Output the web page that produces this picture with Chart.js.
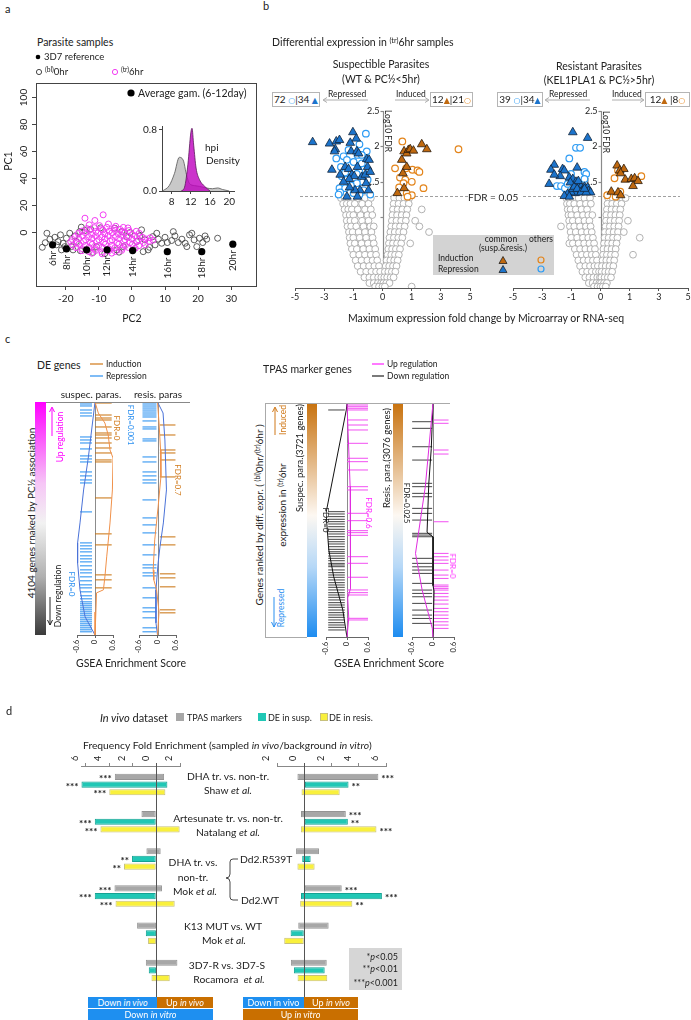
<!DOCTYPE html>
<html>
<head>
<meta charset="utf-8">
<title>Parasite transcriptome figure</title>
<script src="https://cdn.jsdelivr.net/npm/chart.js@4.4.1/dist/chart.umd.min.js"></script>
<style>
  body { margin: 0; background: #fff; }
  #fig { position: relative; width: 691px; height: 1020px; overflow: hidden; font-family: Lato, "Open Sans", sans-serif; color: #222; }
  #fig canvas { position: absolute; }
  .t { position: absolute; white-space: nowrap; line-height: 1; }
  .t sup { font-size: 0.7em; vertical-align: 0; position: relative; top: -0.45em; }
  .bx { position: absolute; box-sizing: border-box; display: flex; align-items: center; justify-content: center; white-space: nowrap; line-height: 1; }
  .sym { font-family: "DejaVu Sans", sans-serif; font-size: 0.8em; }
  #ov { position: absolute; left: 0; top: 0; }
</style>
</head>
<body>
<div id="fig"></div>
<script>
// ---------- panel a: PCA of parasite samples ----------
const refHours = ['6hr', '8hr', '10hr', '12hr', '14hr', '16hr', '18hr', '20hr'];
const refPC2 = [-24.0, -19.8, -13.7, -7.5, 0.2, 10.7, 21.1, 30.5];
const refPC1 = [-9.6, -12.6, -13.3, -13.3, -13.8, -14.6, -14.6, -9.1];
const pc1Ticks = [0, 20, 40, 60, 80, 100];
const pc2Ticks = [-20, -10, 0, 10, 20, 30];

// [PC2, PC1] of the (bl)0hr samples
const bl0hr = [
  [-27.1, -11.4], [-25.7, -1.0], [-24.8, -5.4], [-23.3, -4.0], [-22.3, -7.2], [-21.6, -2.2],
  [-20.8, -8.4], [-19.8, -4.7], [-18.8, -1.0], [-18.3, -10.9], [-17.3, -3.0], [-16.8, -7.2],
  [-15.8, 0.2], [-15.3, 3.5], [-14.2, 1.0], [-12.5, 2.0], [-5.2, 2.7], [-3.1, 0.2],
  [-1.6, -3.5], [-0.6, -0.5], [1.4, -7.2], [2.4, -3.0], [3.9, -5.9], [4.9, -13.3],
  [6.3, -3.5], [7.0, -9.6], [8.0, -5.4], [9.0, -8.4], [10.0, -4.0], [10.7, -7.9],
  [12.0, -6.4], [13.0, -3.0], [14.0, -7.9], [15.1, -5.4], [16.1, -8.4], [17.4, -2.2],
  [18.1, -1.0], [18.8, -5.9], [19.6, -10.9], [20.4, -4.7], [21.4, -7.9], [22.1, -3.0],
  [22.6, -5.4], [25.9, -4.7], [3.4, -14.6], [5.3, -11.4], [16.6, -10.9], [-10.7, -10.9],
  [-21.3, -13.3], [-22.8, -9.6], [-17.8, -13.3], [-20.3, -10.9], [2.9, 1.5], [7.5, -1.0],
  [12.5, 0.2], [-2.6, -10.9], [-4.6, -13.3], [-15.6, -13.9], [-11.8, -15.2], [-3.9, -15.0],
  [-8.2, -16.0], [0.4, -13.3], [-9.5, 3.0], [-26.2, -8.0]
];
// [PC2, PC1] of the (tr)6hr samples
const tr6hr = [
  [-14.2, 10.1], [-8.7, 12.6], [-11.2, 8.4], [-12.9, 5.2], [-9.8, 4.6], [-7.1, 5.8], [-4.9, 4.1], [-2.6, 3.3],
  [-13.6, 2.4], [-11.4, 3.1], [-9.3, 2.2], [-7.6, 3.4], [-5.4, 2.6], [-3.6, 1.8], [-1.2, 2.9],
  [-15.1, 0.6], [-12.8, 1.2], [-10.9, 0.3], [-8.8, 1.4], [-6.9, 0.5], [-5.1, 1.1], [-2.8, 0.2], [-0.9, 1.0], [1.3, 0.4],
  [-16.2, -1.2], [-14.1, -0.6], [-12.2, -1.8], [-10.3, -0.9], [-8.2, -1.5], [-6.0, -0.7], [-4.1, -1.6], [-2.2, -0.8], [0.1, -1.9], [2.2, -1.1],
  [-17.1, -3.4], [-15.0, -2.8], [-13.1, -3.6], [-11.0, -2.9], [-9.1, -3.8], [-7.2, -2.7], [-5.0, -3.5], [-3.1, -2.6], [-1.0, -3.7], [1.0, -3.0], [3.1, -3.9],
  [-18.0, -5.6], [-16.1, -4.9], [-14.0, -5.8], [-12.1, -4.8], [-10.0, -5.7], [-8.1, -5.0], [-6.0, -5.9], [-4.0, -4.9], [-2.1, -5.8], [0.0, -5.1], [2.0, -6.0], [4.1, -5.2], [5.5, -4.4],
  [-18.5, -7.4], [-16.5, -7.9], [-14.6, -7.1], [-12.5, -8.0], [-10.6, -7.2], [-8.5, -7.9], [-6.6, -7.0], [-4.5, -8.1], [-2.5, -7.3], [-0.6, -8.0], [1.5, -7.1], [3.5, -7.8], [5.2, -7.0], [6.4, -6.1],
  [-17.9, -9.8], [-16.0, -9.2], [-14.1, -10.1], [-12.0, -9.3], [-10.1, -10.2], [-8.0, -9.1], [-6.1, -10.0], [-4.0, -9.2], [-2.0, -10.1], [0.1, -9.4], [2.1, -10.2], [4.0, -9.5],
  [-16.9, -11.6], [-15.0, -12.4], [-13.0, -11.5], [-11.1, -12.3], [-9.0, -11.4], [-7.0, -12.5], [-5.1, -11.6], [-3.0, -12.2], [-1.1, -11.5], [1.0, -12.1],
  [-15.1, -13.9], [-13.0, -14.6], [-11.0, -13.8], [-9.1, -14.7], [-7.0, -13.9], [-5.0, -14.5], [-3.1, -13.7],
  [-12.1, -15.8], [-9.0, -16.2], [-6.1, -15.7]
];

// hpi density inset
const greyHpi = [6.1, 7.5, 8.6, 9.6, 10.5, 11.0, 11.7, 12.8, 13.8, 15.2, 16.5, 17.6, 18.6, 20.0];
const greyDensity = [0, 0.07, 0.23, 0.44, 0.39, 0.24, 0.10, 0.07, 0.06, 0.04, 0.03, 0.04, 0.02, 0];
const pinkHpi = [10.0, 10.7, 11.4, 12.0, 12.25, 12.6, 13.1, 13.8, 14.9, 16.0];
const pinkDensity = [0, 0.05, 0.35, 0.76, 0.82, 0.6, 0.3, 0.15, 0.06, 0];
const hpiTicks = [8, 12, 16, 20];
const densityTicks = [0, 0.8];

// ---------- panel b: volcano plots, [fold change, log10 FDR] ----------
const foldTicks = [-5, -3, -1, 0, 1, 3, 5];
const fdrTicks = [1, 1.5, 2, 2.5];
const fdrTickLabels = ['', '1.5', '2', '2.5'];
const fdrCutoff = 0.05;

const suspRepTri = [[-3.79, 2.06], [-2.63, 2.04], [-2.24, 1.96], [-2.17, 2.07], [-1.95, 2.09], [-2.29, 1.93], [-1.21, 2.05], [-1.03, 2.20], [-0.90, 2.11], [-1.15, 1.93], [-0.88, 1.93], [-0.82, 1.90], [-2.47, 1.67], [-1.56, 1.71], [-1.33, 1.68], [-0.86, 1.71], [-0.54, 1.82], [-0.51, 1.71], [-0.46, 1.81], [-1.10, 1.60], [-0.97, 1.58], [-1.28, 1.54], [-0.71, 1.57], [-0.59, 1.60], [-0.56, 1.48], [-0.48, 1.38], [-0.77, 1.38], [-0.94, 1.38], [-1.44, 1.29], [-0.86, 1.29], [-1.26, 1.42], [-1.90, 1.60], [-1.67, 1.50], [-0.42, 1.64]];
const suspRepCirc = [[-0.57, 2.18], [-0.79, 2.03], [-1.33, 1.95], [-1.67, 1.86], [-2.17, 1.83], [-1.44, 1.81], [-0.99, 1.78], [-0.71, 1.76], [-1.85, 1.71], [-0.65, 1.67], [-1.79, 1.58], [-1.56, 1.63], [-0.79, 1.64], [-0.67, 1.50], [-0.51, 1.53], [-0.88, 1.48], [-1.95, 1.41], [-1.17, 1.45], [-1.56, 1.41], [-0.99, 1.34], [-1.90, 1.35], [-0.65, 1.38], [-0.42, 1.32], [-2.01, 1.32], [-0.79, 1.32], [-1.44, 1.53], [-0.86, 1.88], [-0.54, 1.93], [-0.71, 1.88], [-0.88, 1.61]];
const suspIndTri = [[0.51, 1.34], [0.66, 1.81], [0.74, 1.93], [0.83, 1.90], [0.89, 1.95], [0.95, 1.96], [1.12, 1.94], [1.69, 2.03], [2.04, 1.96], [0.70, 1.62], [0.83, 1.71], [0.74, 1.41]];
const suspIndCirc = [[0.68, 2.07], [4.21, 1.96], [0.43, 1.69], [0.81, 1.69], [1.05, 1.67], [1.40, 1.66], [1.53, 1.64], [0.60, 1.56], [0.78, 1.53], [1.01, 1.50], [0.72, 1.48], [1.81, 1.41], [0.57, 1.42], [0.83, 1.34], [1.01, 1.31], [0.86, 1.29]];
// non-significant genes, rows of [log10 FDR, [fold changes]]
const suspGrey = [
  [1.27, [-1.85, -1.6, -1.35, -1.1, -0.85, -0.6, -0.4, 0.4, 0.58, 0.75, 0.92]],
  [1.19, [-1.7, -1.45, -1.2, -0.95, -0.7, -0.48, 0.38, 0.55, 0.72, 0.9]],
  [1.11, [-1.6, -1.35, -1.1, -0.85, -0.6, -0.4, 0.36, 0.52, 0.68, 0.85, 1.69]],
  [1.03, [-1.5, -1.25, -1.0, -0.75, -0.52, -0.35, 0.34, 0.5, 0.66, 0.82]],
  [0.95, [-1.45, -1.2, -0.95, -0.7, -0.48, 0.32, 0.48, 0.64, 0.8, 1.24]],
  [0.87, [-1.4, -1.15, -0.9, -0.65, -0.42, -0.3, 0.3, 0.45, 0.6, 0.76, 1.53]],
  [0.79, [-1.3, -1.05, -0.82, -0.6, -0.38, 0.27, 0.42, 0.57, 0.72, 2.19]],
  [0.71, [-1.25, -1.0, -0.78, -0.56, -0.34, 0.24, 0.39, 0.54, 0.68]],
  [0.63, [-1.2, -0.95, -0.72, -0.5, -0.3, 0.22, 0.36, 0.5, 0.64, 0.95]],
  [0.55, [-1.1, -0.88, -0.66, -0.45, -0.25, 0.2, 0.33, 0.46, 0.6]],
  [0.47, [-1.0, -0.8, -0.6, -0.4, -0.22, 0.17, 0.3, 0.43, 0.56]],
  [0.39, [-0.92, -0.72, -0.52, -0.34, -0.18, 0.14, 0.27, 0.4, 0.52]],
  [0.31, [-0.85, -0.65, -0.46, -0.28, -0.12, 0.11, 0.23, 0.36, 0.48]],
  [0.23, [-0.75, -0.56, -0.38, -0.22, -0.08, 0.08, 0.2, 0.32, 0.44]],
  [0.15, [-0.62, -0.45, -0.3, -0.15, -0.04, 0.06, 0.16, 0.28, 0.38]],
  [0.07, [-0.45, -0.3, -0.16, -0.05, 0.03, 0.13, 0.24]],
  [0.02, [-0.25, -0.12, 0.0, 0.08, 1.0]]
];

const resisRepTri = [[-0.95, 2.20], [-0.44, 2.12], [-2.17, 1.74], [-2.40, 1.67], [-1.60, 1.68], [-1.48, 1.66], [-0.80, 1.70], [-1.76, 1.58], [-2.17, 1.60], [-2.52, 1.47], [-1.14, 1.56], [-0.95, 1.54], [-0.84, 1.50], [-0.78, 1.47], [-0.67, 1.43], [-0.55, 1.43], [-0.44, 1.42], [-0.41, 1.37], [-0.34, 1.35], [-0.61, 1.37], [-0.72, 1.36], [-0.87, 1.34], [-1.02, 1.35], [-1.25, 1.33], [-1.48, 1.30], [-1.14, 1.29], [-0.95, 1.40], [-1.07, 1.49], [-0.90, 1.43], [-0.80, 1.40], [-0.67, 1.35], [-0.49, 1.35], [-0.55, 1.40], [-0.76, 1.51]];
const resisRepCirc = [[-0.84, 1.98], [-0.70, 1.98], [-1.14, 1.83], [-0.55, 1.64], [-0.49, 1.61], [-0.55, 1.54], [-1.02, 1.61], [-1.99, 1.44], [-1.71, 1.44], [-1.44, 1.41], [-1.14, 1.51], [-1.25, 1.47]];
const resisIndTri = [[0.57, 1.73], [0.66, 1.66], [0.80, 1.68], [0.69, 1.62], [0.85, 1.53], [1.11, 1.54], [1.34, 1.55], [1.57, 1.51], [1.23, 1.44], [0.37, 1.36], [0.60, 1.35], [0.69, 1.31]];
const resisIndCirc = [[0.48, 1.55], [0.60, 1.66], [1.80, 1.58], [0.23, 1.31], [0.52, 1.29], [0.68, 1.36]];
const resisGrey = [
  [1.27, [-1.35, -1.15, -0.95, -0.75, -0.55, -0.36, 0.26, 0.42, 0.58, 0.74, 0.86]],
  [1.19, [-1.3, -1.1, -0.9, -0.7, -0.5, -0.33, 0.24, 0.4, 0.56, 0.72]],
  [1.11, [-1.25, -1.05, -0.85, -0.65, -0.46, 0.22, 0.38, 0.53, 0.68]],
  [1.03, [-1.2, -1.0, -0.8, -0.6, -0.42, -0.28, 0.2, 0.36, 0.51, 0.66]],
  [0.95, [-1.15, -0.95, -0.75, -0.55, -0.38, 0.19, 0.34, 0.49, 0.64, 0.94]],
  [0.87, [-1.71, -1.1, -0.9, -0.7, -0.5, -0.34, 0.17, 0.32, 0.47, 0.62]],
  [0.79, [-1.05, -0.85, -0.65, -0.46, -0.3, 0.15, 0.3, 0.45, 0.6, 0.8]],
  [0.71, [-1.0, -0.8, -0.6, -0.42, -0.26, 0.14, 0.28, 0.43, 0.58, 1.69]],
  [0.63, [-1.14, -0.95, -0.75, -0.56, -0.38, -0.22, 0.12, 0.26, 0.4, 0.55]],
  [0.55, [-0.88, -0.7, -0.52, -0.34, -0.19, 0.1, 0.24, 0.38, 0.52]],
  [0.47, [-0.82, -0.64, -0.47, -0.3, -0.16, 0.09, 0.22, 0.36, 0.5, 1.23]],
  [0.39, [-0.76, -0.58, -0.42, -0.26, -0.12, 0.07, 0.2, 0.33, 0.47]],
  [0.31, [-0.7, -0.52, -0.36, -0.21, -0.09, 0.05, 0.18, 0.31, 0.44]],
  [0.23, [-0.62, -0.46, -0.3, -0.16, -0.05, 0.04, 0.16, 0.28, 0.4]],
  [0.15, [-0.52, -0.38, -0.24, -0.11, -0.02, 0.03, 0.14, 0.25, 0.36]],
  [0.07, [-0.4, -0.27, -0.14, -0.04, 0.02, 0.12, 0.22]],
  [0.02, [-0.22, -0.1, 0.0, 0.08, 0.18]]
];

// ---------- panel c: GSEA tracks (gene rank hits, [rank, enrichment score]) ----------
const esTicks = [-0.6, 0, 0.6];
const suspBlueHits = [35, 70, 141, 194, 246, 616, 669, 722, 827, 950, 1003, 1056, 1232, 1302, 1373, 1426, 1936, 2482, 2534, 2587, 2640, 2710, 2763, 2816, 2886, 2957, 3010, 3080, 3150, 3221, 3274, 3344, 3414, 3467, 3520, 3555, 3590, 3626, 3661, 3696, 3731, 3766, 3802, 3837, 3872, 3907, 3942, 3978, 4013, 4048];
const suspOrangeHits = [18, 229, 282, 317, 440, 546, 581, 634, 722, 810, 898, 1021, 1056, 1690, 2323, 2517, 3045, 3133, 3274];
const suspBlueES = [[0, 0], [968, -0.22], [1549, -0.38], [2130, -0.5], [2482, -0.58], [2834, -0.58], [3309, -0.5], [3784, -0.33], [4104, 0]];
const suspOrangeES = [[0, 0], [194, 0.11], [370, 0.33], [581, 0.44], [845, 0.5], [986, 0.6], [1549, 0.58], [2130, 0.5], [2728, 0.39], [3080, 0.33], [3309, 0.28], [3362, 0.05], [3700, 0.03], [4104, 0]];
const resisBlueHits = [18, 53, 88, 123, 158, 194, 229, 264, 334, 440, 475, 651, 686, 968, 1056, 1232, 1302, 1373, 1426, 1725, 2042, 2165, 2306, 2517, 2693, 2869, 2922, 3010, 3063, 3274, 3450, 3626, 3696, 3802, 3978, 4048];
const resisOrangeHits = [405, 581, 845, 898, 1021, 1320, 2376, 2517, 3027, 3098, 3256, 3661, 3714];
const resisBlueES = [[0, 0], [194, 0.18], [669, 0.24], [1549, 0.29], [2130, 0.19], [2552, 0.08], [2834, 0.02], [3309, -0.05], [3890, -0.05], [4104, 0]];
const resisOrangeES = [[0, 0], [370, 0.05], [845, 0.1], [1320, 0.11], [1848, 0.02], [2429, -0.09], [2957, -0.14], [3133, -0.12], [3309, -0.03], [3696, 0.05], [4104, 0]];

const tpasSuspDownHits = [111, 1728, 1765, 1807, 1849, 1887, 1924, 1967, 2008, 2046, 2083, 2126, 2168, 2206, 2242, 2285, 2327, 2365, 2391, 2433, 2470, 2508, 2550, 2576, 2603, 2655, 2698, 2735, 2772, 2814, 2857, 2894, 2931, 2973, 3016, 3053, 3090, 3132, 3175, 3212, 3249, 3292, 3334, 3371, 3408, 3450, 3493, 3530, 3567, 3609];
const tpasSuspUpHits = [32, 59, 84, 111, 270, 350, 429, 641, 879, 933, 1065, 1331, 1383, 1754, 1871, 2030, 2062, 2104, 2444, 2549, 2771, 2973, 3016, 3053, 3424, 3450];
const tpasSuspDownES = [[0, 0], [111, -0.02], [1749, -0.6], [2337, -0.52], [2762, -0.38], [3291, -0.12], [3657, -0.02], [3721, 0]];
const tpasSuspUpES = [[0, 0], [1331, 0.09], [2300, 0.1], [2950, 0.1], [3100, 0.02], [3420, 0.05], [3721, 0]];
const tpasResisDownHits = [246, 333, 575, 750, 1056, 1100, 1188, 1232, 1385, 1451, 1539, 1713, 1736, 1758, 2042, 2108, 2153, 2196, 2240, 2371, 2459, 2503, 2547, 2634, 2722, 2788, 2832, 2897];
const tpasResisUpHits = [224, 267, 618, 671, 1561, 1977, 2021, 2065, 2108, 2196, 2262, 2306, 2393, 2415, 2437, 2459, 2503, 2547, 2591, 2643, 2700, 2744, 2788, 2832, 2876, 2919, 2963];
const tpasResisDownES = [[0, 0], [600, -0.05], [1056, -0.12], [1700, -0.17], [1760, 0], [2400, 0], [2470, 0.03], [3076, 0]];
const tpasResisUpES = [[0, 0], [1100, -0.22], [1977, -0.5], [2459, -0.31], [2963, -0.02], [3076, 0]];

// ---------- panel d: frequency fold enrichment, floating [from, to] ----------
const studies = ['DHA tr. vs. non-tr. (Shaw et al.)', 'Artesunate tr. vs. non-tr. (Natalang et al.)', 'DHA tr. vs. non-tr. Dd2.R539T (Mok et al.)', 'DHA tr. vs. non-tr. Dd2.WT (Mok et al.)', 'K13 MUT vs. WT (Mok et al.)', '3D7-R vs. 3D7-S (Rocamora et al.)'];
const enrichTicks = [-2, 0, 2, 4, 6];
const downTpas = [[-0.65, 3.53], [0.06, 1.27], [-0.36, 0.85], [-0.47, 3.56], [0, 1.64], [-1.78, 0.9]];
const downSusp = [[-0.93, 6.36], [0.06, 5.23], [0.06, 2.07], [0.06, 5.23], [0, 0.9], [0, 0.65]];
const downResis = [[-0.76, 4.0], [-1.97, 4.75], [0.06, 2.75], [-1.55, 3.47], [0, 0.71], [-1.13, 0.42]];
const upTpas = [[-0.5, 5.44], [-0.24, 3.05], [-0.6, 1.08], [0, 2.75], [-0.44, 1.79], [-0.98, 1.65]];
const upSusp = [[0.05, 3.25], [0, 3.2], [-0.15, 0.47], [-0.24, 5.7], [-1.0, 0], [-0.76, 1.5]];
const upResis = [[-0.2, 2.6], [-0.25, 5.3], [-0.5, 0.76], [-0.3, 3.53], [-1.47, 0], [-0.49, 1.69]];
const downStars = [['***', '', '', '***', '', ''], ['***', '***', '**', '***', '', ''], ['***', '***', '**', '***', '', '']];
const upStars = [['***', '***', '', '***', '', ''], ['**', '**', '', '***', '', ''], ['', '***', '', '**', '', '']];

// ---------------------------------------------------------------
Chart.defaults.font.family = 'Lato, "Open Sans", sans-serif';
Chart.defaults.color = '#222';
Chart.defaults.font.size = 9;

const fig = document.getElementById('fig');
const PAD = 30;

// area = [left, top, right, bottom] of the plotting region on the page.
// Visible axes get a PAD-wide box (labels are clipped to it), other sides get PAD padding.
function makeChart(area, config) {
  const [l, t, r, b] = area;
  const w = r - l + 2 * PAD, h = b - t + 2 * PAD;
  const cv = document.createElement('canvas');
  cv.width = w; cv.height = h;
  cv.style.left = (l - PAD) + 'px';
  cv.style.top = (t - PAD) + 'px';
  cv.style.width = w + 'px';
  cv.style.height = h + 'px';
  fig.appendChild(cv);
  const opts = config.options || {};
  const pad = { left: PAD, right: PAD, top: PAD, bottom: PAD };
  Object.entries(opts.scales || {}).forEach(([id, s]) => {
    if (s.display === false) return;
    const pos = s.position || (id === 'x' ? 'bottom' : 'left');
    pad[pos] = 0;
    s.afterFit = sc => { if (sc.isHorizontal()) sc.height = PAD; else sc.width = PAD; };
  });
  opts.responsive = false;
  opts.animation = false;
  opts.events = [];
  opts.layout = { padding: pad };
  opts.plugins = Object.assign({ legend: { display: false }, tooltip: { enabled: false } }, opts.plugins || {});
  config.options = opts;
  return new Chart(cv, config);
}

const fixedTicks = list => s => { s.ticks = list.map(v => ({ value: v })); };

// ----- panel a -----
const pcaLabels = {
  id: 'pcaLabels',
  afterDraw(chart) {
    const { ctx, chartArea: a, scales: { x, y } } = chart;
    ctx.save();
    ctx.strokeStyle = '#444'; ctx.lineWidth = 1;
    ctx.strokeRect(Math.round(a.left) + 0.5, Math.round(a.top) + 0.5, Math.round(a.width), Math.round(a.height));
    ctx.fillStyle = '#222';
    ctx.font = '10px Lato';
    pc1Ticks.forEach(v => {
      const py = Math.round(y.getPixelForValue(v)) + 0.5;
      ctx.beginPath(); ctx.moveTo(a.left, py); ctx.lineTo(a.left - 4, py); ctx.stroke();
      ctx.save(); ctx.translate(a.left - 7, py); ctx.rotate(-Math.PI / 2);
      ctx.textAlign = 'center'; ctx.textBaseline = 'bottom'; ctx.fillText(String(v), 0, 0);
      ctx.restore();
    });
    refHours.forEach((h, i) => {
      const px = x.getPixelForValue(refPC2[i]), py = y.getPixelForValue(refPC1[i]);
      ctx.save(); ctx.translate(px, py + 6); ctx.rotate(-Math.PI / 2);
      ctx.textAlign = 'right'; ctx.textBaseline = 'middle'; ctx.fillText(h, 0, 0);
      ctx.restore();
    });
    ctx.restore();
  }
};

makeChart([36, 83, 256, 286], {
  type: 'scatter',
  data: { datasets: [
    { data: refPC2.map((v, i) => ({ x: v, y: refPC1[i] })), pointRadius: 3.6, pointBackgroundColor: '#000', pointBorderColor: '#000', pointBorderWidth: 0 },
    { data: tr6hr.map(([x, y]) => ({ x, y })), pointRadius: 3, pointBackgroundColor: 'rgba(0,0,0,0)', pointBorderColor: '#f23cf2', pointBorderWidth: 1 },
    { data: bl0hr.map(([x, y]) => ({ x, y })), pointRadius: 3, pointBackgroundColor: 'rgba(0,0,0,0)', pointBorderColor: '#3a3a3a', pointBorderWidth: 0.8 }
  ]},
  options: {
    scales: {
      x: { min: -29, max: 37.5, afterBuildTicks: fixedTicks(pc2Ticks), ticks: { font: { size: 10 }, padding: 3 },
           grid: { drawOnChartArea: false, tickLength: 4, color: '#444' }, border: { display: false } },
      y: { display: false, min: -40, max: 110 }
    }
  },
  plugins: [pcaLabels]
});

// inset: hpi density
makeChart([162, 126, 234, 191], {
  type: 'scatter',
  data: { datasets: [
    { data: pinkHpi.map((h, i) => ({ x: h, y: pinkDensity[i] })), showLine: true, fill: 'origin', backgroundColor: 'rgba(190,0,190,0.8)', borderColor: '#5a1a5a', borderWidth: 0.8, pointRadius: 0, cubicInterpolationMode: 'monotone' },
    { data: greyHpi.map((h, i) => ({ x: h, y: greyDensity[i] })), showLine: true, fill: 'origin', backgroundColor: '#c8c8c8', borderColor: '#555', borderWidth: 0.8, pointRadius: 0, cubicInterpolationMode: 'monotone' }
  ]},
  options: {
    scales: {
      x: { min: 6, max: 21, afterBuildTicks: fixedTicks(hpiTicks), ticks: { font: { size: 10 }, padding: 2 },
           grid: { drawOnChartArea: false, tickLength: 3, color: '#444' }, border: { color: '#444' } },
      y: { min: 0, max: 0.85, afterBuildTicks: fixedTicks(densityTicks), ticks: { font: { size: 10 }, padding: 2, callback: v => v.toFixed(1) },
           grid: { drawOnChartArea: false, tickLength: 3, color: '#444' }, border: { color: '#444' } }
    }
  }
});

// ----- panel b -----
// fold change axis is stretched between -1 and 1
function fc2u(v) { const a = Math.abs(v); return Math.sign(v) * (a <= 1 ? 2 * a : a + 1); }
function u2fc(u) { const a = Math.abs(u); return Math.sign(u) * (a <= 2 ? a / 2 : a - 1); }

function volcanoAxis(insetL, insetR) {
  return {
    id: 'volcanoAxis',
    beforeDatasetsDraw(chart) {
      const { ctx, chartArea: a, scales: { x, y } } = chart;
      const x0 = Math.round(x.getPixelForValue(0)) + 0.5;
      ctx.save();
      ctx.strokeStyle = '#8a8a8a'; ctx.lineWidth = 1.2;
      ctx.beginPath(); ctx.moveTo(x0, a.bottom); ctx.lineTo(x0, y.getPixelForValue(fdrTicks[fdrTicks.length - 1])); ctx.stroke();
      ctx.fillStyle = '#222'; ctx.font = '9px Lato'; ctx.textAlign = 'right'; ctx.textBaseline = 'middle';
      fdrTicks.forEach((v, i) => {
        const py = Math.round(y.getPixelForValue(v)) + 0.5;
        ctx.beginPath(); ctx.moveTo(x0 - 3, py); ctx.lineTo(x0, py); ctx.stroke();
        if (fdrTickLabels[i]) ctx.fillText(fdrTickLabels[i], x0 - 4, py);
      });
      const pc = Math.round(y.getPixelForValue(-Math.log10(fdrCutoff))) + 0.5;
      ctx.setLineDash([3, 2]); ctx.strokeStyle = '#888'; ctx.lineWidth = 0.8;
      ctx.beginPath(); ctx.moveTo(a.left + insetL, pc); ctx.lineTo(a.right - insetR, pc); ctx.stroke();
      ctx.restore();
    }
  };
}

function volcanoChart(area, tri, circ, triUp, circUp, grey, insets) {
  const pts = arr => arr.map(([fc, q]) => ({ x: fc2u(fc), y: q }));
  const greyPts = [];
  grey.forEach(([q, fcs]) => fcs.forEach(fc => greyPts.push({ x: fc2u(fc), y: q })));
  makeChart(area, {
    type: 'scatter',
    data: { datasets: [
      { data: pts(triUp), pointStyle: 'triangle', pointRadius: 5, pointBackgroundColor: '#c0690f', pointBorderColor: '#2b1c0c', pointBorderWidth: 0.8 },
      { data: pts(tri), pointStyle: 'triangle', pointRadius: 5, pointBackgroundColor: '#1c74cc', pointBorderColor: '#13243a', pointBorderWidth: 0.8 },
      { data: pts(circUp), pointRadius: 3.3, pointBackgroundColor: '#fff', pointBorderColor: '#e3841a', pointBorderWidth: 1.2 },
      { data: pts(circ), pointRadius: 3.3, pointBackgroundColor: '#fff', pointBorderColor: '#2e9cf4', pointBorderWidth: 1.2 },
      { data: greyPts, pointRadius: 3.4, pointBackgroundColor: '#fff', pointBorderColor: '#a9a9a9', pointBorderWidth: 0.9 }
    ]},
    options: {
      scales: {
        x: { min: -6, max: 6, afterBuildTicks: s => { s.ticks = foldTicks.map(v => ({ value: fc2u(v) })); },
             ticks: { callback: v => String(Math.round(u2fc(v))), font: { size: 9 }, padding: 1 },
             grid: { drawOnChartArea: false, tickLength: 3, color: '#555' }, border: { color: '#555' } },
        y: { display: false, min: 0, max: 2.5 }
      }
    },
    plugins: [volcanoAxis(insets[0], insets[1])]
  });
}

volcanoChart([295, 111, 470, 288], suspRepTri, suspRepCirc, suspIndTri, suspIndCirc, suspGrey, [5, 2]);
volcanoChart([513, 111, 688, 288], resisRepTri, resisRepCirc, resisIndTri, resisIndCirc, resisGrey, [10, 8]);

// ----- panel c -----
const zeroLine = {
  id: 'zeroLine',
  beforeDatasetsDraw(chart) {
    const { ctx, chartArea: a, scales: { x } } = chart;
    const x0 = Math.round(x.getPixelForValue(0)) + 0.5;
    ctx.save(); ctx.strokeStyle = '#8c8c8c'; ctx.lineWidth = 1;
    ctx.beginPath(); ctx.moveTo(x0, a.top); ctx.lineTo(x0, a.bottom); ctx.stroke();
    ctx.restore();
  }
};

// each set: hits (gene ranks) drawn as short ticks, plus its running enrichment curve
function gseaTrack(area, total, sets) {
  const datasets = [];
  sets.forEach(s => datasets.push({ data: s.es.map(([r, e]) => ({ x: e, y: r })), showLine: true, borderColor: s.curve, borderWidth: 1, pointRadius: 0 }));
  sets.forEach(s => datasets.push({ data: s.hits.map(r => ({ x: s.at, y: r })), pointStyle: 'line', pointRadius: s.half, pointBorderColor: s.color, pointBorderWidth: 1 }));
  makeChart(area, {
    type: 'scatter',
    data: { datasets },
    options: {
      scales: {
        x: { min: -0.6, max: 0.6, afterBuildTicks: fixedTicks(esTicks),
             ticks: { minRotation: 90, maxRotation: 90, font: { size: 7.5 }, padding: 2, callback: v => v === 0 ? '0' : v.toFixed(1) },
             grid: { drawOnChartArea: false, tickLength: 3, color: '#666' }, border: { color: '#666' } },
        y: { display: false, reverse: true, min: 0, max: total }
      }
    },
    plugins: [zeroLine]
  });
}

gseaTrack([77, 402, 113, 635], 4104, [
  { hits: suspOrangeHits, es: suspOrangeES, color: '#c8700a', curve: '#f0914a', at: 0.28, half: 8.3 },
  { hits: suspBlueHits, es: suspBlueES, color: '#1f8bf0', curve: '#4a72d8', at: -0.3, half: 6 }
]);
gseaTrack([139, 402, 176, 635], 4104, [
  { hits: resisOrangeHits, es: resisOrangeES, color: '#c8700a', curve: '#f0914a', at: 0.33, half: 7.8 },
  { hits: resisBlueHits, es: resisBlueES, color: '#1f8bf0', curve: '#4a72d8', at: -0.26, half: 7 }
]);
gseaTrack([326, 403, 368, 637], 3721, [
  { hits: tpasSuspUpHits, es: tpasSuspUpES, color: '#f24ff2', curve: '#e02ce0', at: 0.31, half: 10.8 },
  { hits: tpasSuspDownHits, es: tpasSuspDownES, color: '#444', curve: '#111', at: -0.3, half: 8.3 }
]);
gseaTrack([412, 403, 454, 637], 3076, [
  { hits: tpasResisUpHits, es: tpasResisUpES, color: '#f24ff2', curve: '#e02ce0', at: 0.23, half: 7.5 },
  { hits: tpasResisDownHits, es: tpasResisDownES, color: '#444', curve: '#111', at: -0.31, half: 10 }
]);

// ----- panel d -----
function starsPlugin(stars, side) {
  return {
    id: 'stars',
    afterDatasetsDraw(chart) {
      const { ctx, chartArea: a, scales: { x } } = chart;
      ctx.save();
      const x0 = Math.round(x.getPixelForValue(0)) + 0.5;
      ctx.strokeStyle = '#555'; ctx.lineWidth = 1;
      ctx.beginPath(); ctx.moveTo(x0, a.top - 3); ctx.lineTo(x0, a.bottom + 8); ctx.stroke();
      ctx.fillStyle = '#222'; ctx.font = 'bold 10px Lato'; ctx.textBaseline = 'middle';
      stars.forEach((row, i) => {
        chart.getDatasetMeta(i).data.forEach((bar, j) => {
          if (!row[j]) return;
          if (side === 'left') { ctx.textAlign = 'right'; ctx.fillText(row[j], Math.min(bar.x, bar.base) - 3, bar.y + 2); }
          else { ctx.textAlign = 'left'; ctx.fillText(row[j], Math.max(bar.x, bar.base) + 3, bar.y + 2); }
        });
      });
      ctx.restore();
    }
  };
}

function enrichChart(area, reverse, tpas, susp, resis, stars, side) {
  const common = { categoryPercentage: 0.62, barPercentage: 0.8, borderWidth: 1, borderSkipped: false };
  makeChart(area, {
    type: 'bar',
    data: { labels: studies, datasets: [
      Object.assign({ label: 'TPAS markers', data: tpas, backgroundColor: '#a7a7a7', borderColor: '#949494' }, common),
      Object.assign({ label: 'DE in susp.', data: susp, backgroundColor: '#20c7b5', borderColor: '#15a293' }, common),
      Object.assign({ label: 'DE in resis.', data: resis, backgroundColor: '#f9f03c', borderColor: '#c7c07c' }, common)
    ]},
    options: {
      indexAxis: 'y',
      scales: {
        x: { position: 'top', reverse, min: -2, max: reverse ? 6.4 : 6, afterBuildTicks: fixedTicks(enrichTicks),
             ticks: { callback: v => String(Math.abs(v)), minRotation: 90, maxRotation: 90, font: { size: 9 }, padding: 2 },
             grid: { drawOnChartArea: false, tickLength: 3, color: '#888' }, border: { color: '#888' } },
        y: { display: false }
      }
    },
    plugins: [starsPlugin(stars, side)]
  });
}

enrichChart([81, 766, 180, 989], true, downTpas, downSusp, downResis, downStars, 'left');
enrichChart([277, 766, 386, 989], false, upTpas, upSusp, upResis, upStars, 'right');

// ---------------- text and decorations ----------------
function T(html, x, y, o = {}) {
  const d = document.createElement('div');
  d.className = 't';
  d.innerHTML = html;
  d.style.left = x + 'px';
  d.style.top = y + 'px';
  d.style.fontSize = (o.s || 10) + 'px';
  if (o.c) d.style.color = o.c;
  let tf = o.a === 'c' ? 'translate(-50%,-50%)' : o.a === 'r' ? 'translate(-100%,-50%)' : 'translate(0,-50%)';
  if (o.r) tf = 'translate(-50%,-50%) rotate(' + o.r + 'deg)';
  d.style.transform = tf;
  fig.appendChild(d);
  return d;
}
function box(x, y, w, h, bg, extra, html) {
  const d = document.createElement('div');
  d.className = 'bx';
  Object.assign(d.style, { left: x + 'px', top: y + 'px', width: w + 'px', height: h + 'px', background: bg }, extra || {});
  if (html) d.innerHTML = '<span>' + html + '</span>';
  fig.appendChild(d);
  return d;
}

const BLUE_C = '#2e9cf4', BLUE_T = '#1c74cc', OR_T = '#c0690f', OR_C = '#e3841a';
const sym = (ch, c) => `<span class="sym" style="color:${c}">${ch}</span>`;

// panel a
T('a', 5, 8, { s: 11 });
T('Parasite samples', 37, 42, { s: 10.5 });
T('3D7 reference', 44, 57, { s: 9.5 });
T('<sup>(bl)</sup>0hr', 45, 72, { s: 9.5 });
T('<sup>(tr)</sup>6hr', 121, 72, { s: 9.5 });
T('Average gam. (6-12day)', 138, 93, { s: 10.5 });
T('hpi', 205, 147, { s: 10 });
T('Density', 206, 160, { s: 10 });
T('PC1', 8, 161, { s: 10.5, r: -90 });
T('PC2', 132, 318, { s: 10.5, a: 'c' });

// panel b
T('b', 263, 5, { s: 11 });
T('Differential expression in <sup>(tr)</sup>6hr samples', 272, 42, { s: 10.5 });
T('Suspectible Parasites', 381, 64, { s: 10.5, a: 'c' });
T('(WT &amp; PC½&lt;5hr)', 381, 79, { s: 10.5, a: 'c' });
T('Resistant Parasites', 599, 66, { s: 10.5, a: 'c' });
T('(KEL1PLA1 &amp; PC½&gt;5hr)', 599, 80, { s: 10.5, a: 'c' });
const countBox = { border: '1px solid #b5b5b5', fontSize: '10px' };
box(272, 92, 48, 15, '#fff', countBox, '72 ' + sym('○', BLUE_C) + '|34 ' + sym('▲', BLUE_T));
box(430, 92, 43, 15, '#fff', countBox, '12' + sym('▲', OR_T) + '|21' + sym('○', OR_C));
box(497, 92, 46, 15, '#fff', countBox, '39 ' + sym('○', BLUE_C) + '|34' + sym('▲', BLUE_T));
box(645, 92, 45, 15, '#fff', countBox, '12' + sym('▲', OR_T) + ' |8' + sym('○', OR_C));
T('Repressed', 328, 94, { s: 8.5 });
T('Induced', 396, 94, { s: 8.5 });
T('Repressed', 549, 94, { s: 8.5 });
T('Induced', 612, 94, { s: 8.5 });
T('Log10 FDR', 388, 131, { s: 8.5, r: 90 });
T('Log10 FDR', 606, 132, { s: 8.5, r: 90 });
T('FDR = 0.05', 468, 197, { s: 10 });
box(433, 235, 121, 40, '#d3d3d3');
T('common', 501, 239, { s: 8.5, a: 'c' });
T('others', 541, 239, { s: 8.5, a: 'c' });
T('(susp.&amp;resis.)', 503, 248, { s: 8.5, a: 'c' });
T('Induction', 438, 258, { s: 8.5 });
T('Repression', 438, 269, { s: 8.5 });
T('Maximum expression fold change by Microarray or RNA-seq', 348, 318, { s: 10.5 });

// panel c
T('c', 5, 338, { s: 11 });
T('DE genes', 37, 365, { s: 10.5 });
T('Induction', 106, 364, { s: 8.5 });
T('Repression', 106, 376, { s: 8.5 });
T('suspec. paras.', 91, 394, { s: 10, a: 'c' });
T('resis. paras', 158, 394, { s: 10, a: 'c' });
box(35, 402, 11, 233, 'linear-gradient(#ff00ff, #f6c6f6 35%, #f2f2f2 52%, #b0b0b0 75%, #3a3a3a)');
T('4104 genes rnaked by PC½ association', 31, 513, { s: 10, r: -90 });
T('Up regulation', 60, 437, { s: 8.5, c: '#ff00ff', r: -90 });
T('Down regulation', 58, 596, { s: 8.5, r: -90 });
T('FDR=0', 117, 428, { s: 8, c: '#d07818', r: 90 });
T('FDR=0.001', 131, 425, { s: 8, c: '#2a8ff0', r: 90 });
T('FDR=0.7', 178, 480, { s: 8, c: '#d07818', r: 90 });
T('FDR=0', 72, 584, { s: 8, c: '#2a8ff0', r: 90 });
T('GSEA Enrichment Score', 131, 663, { s: 10.5, a: 'c' });

T('TPAS marker genes', 263, 369, { s: 10.5 });
T('Up regulation', 387, 364, { s: 8.5 });
T('Down regulation', 387, 376, { s: 8.5 });
T('Genes ranked by diff. expr. ( <sup>(bl)</sup>0hr/<sup>(tr)</sup>6hr )', 259, 515, { s: 10, r: -90 });
T('expression in <sup>(tr)</sup>6hr', 282, 505, { s: 10, r: -90 });
T('Induced', 283, 420, { s: 8.5, c: '#d07818', r: -90 });
T('Repressed', 281, 608, { s: 8.5, c: '#2a8ff0', r: -90 });
const vitroGrad = 'linear-gradient(#c8720e, #e6bf92 28%, #fdf8f2 48%, #b6d8f7 70%, #1d8cf0)';
box(307, 403, 10, 234, vitroGrad);
box(393, 403, 10, 234, vitroGrad);
T('Suspec. para.(3721 genes)', 300, 458, { s: 9.5, r: -90 });
T('Resis. para.(3076 genes)', 387, 458, { s: 9.5, r: -90 });
T('FDR=0', 326, 520, { s: 8, r: 90 });
T('FDR=0.6', 369, 513, { s: 8, c: '#ff22ff', r: 90 });
T('FDR=0.025', 407, 503, { s: 8, r: 90 });
T('FDR=0', 453, 566, { s: 8, c: '#ff22ff', r: 90 });
T('GSEA Enrichment Score', 389, 663, { s: 10.5, a: 'c' });

// panel d
T('d', 6, 710, { s: 11 });
T('<i>In vivo</i> dataset', 100, 717, { s: 11 });
box(176, 713, 8, 8, '#a7a7a7');
T('TPAS markers', 187, 717, { s: 9 });
box(258, 713, 8, 8, '#20c7b5');
T('DE in susp.', 268, 717, { s: 9 });
box(320, 713, 8, 8, '#f9f03c', { border: '1px solid #c7c07c' });
T('DE in resis.', 329, 717, { s: 9 });
T('Frequency Fold Enrichment (sampled <i>in vivo</i>/background <i>in vitro</i>)', 83, 745, { s: 10.3 });
const sl = { s: 10.3, a: 'c' };
T('DHA tr. vs. non-tr.', 228, 776, sl);
T('Shaw <i>et al.</i>', 228, 790, sl);
T('Artesunate tr. vs. non-tr.', 228, 818, sl);
T('Natalang <i>et al.</i>', 228, 832, sl);
T('DHA tr. vs.', 193, 862, sl);
T('non-tr.', 193, 877, sl);
T('Mok <i>et al.</i>', 195, 891, sl);
T('Dd2.R539T', 240, 859, { s: 10.3 });
T('Dd2.WT', 241, 900, { s: 10.3 });
T('K13 MUT vs. WT', 223, 926, sl);
T('Mok <i>et al.</i>', 224, 940, sl);
T('3D7-R vs. 3D7-S', 227, 965, sl);
T('Rocamora&nbsp; <i>et al.</i>', 229, 979, sl);
box(349, 948, 53, 42, '#d6d6d6');
T('*<i>p</i>&lt;0.05', 398, 956, { s: 9, a: 'r' });
T('**<i>p</i>&lt;0.01', 398, 968, { s: 9, a: 'r' });
T('***<i>p</i>&lt;0.001', 398, 982, { s: 9, a: 'r' });
const tagStyle = { color: '#fff', fontSize: '9px' };
const DBLUE = '#1e8ff0', DORANGE = '#c96f00';
box(88, 997, 69, 11, DBLUE, tagStyle, 'Down <i>in vivo</i>');
box(157, 997, 56, 11, DORANGE, tagStyle, 'Up <i>in vivo</i>');
box(88, 1009, 125, 11, DBLUE, tagStyle, 'Down <i>in vitro</i>');
box(243, 997, 61, 11, DBLUE, tagStyle, 'Down in vivo');
box(304, 997, 54, 11, DORANGE, tagStyle, 'Up <i>in vivo</i>');
box(243, 1009, 115, 11, DORANGE, tagStyle, 'Up <i>in vitro</i>');

// svg overlay: legend symbols, arrows, frame lines, bracket
const sv = [];
const L = (x1, y1, x2, y2, c, w = 1) => sv.push(`<line x1="${x1}" y1="${y1}" x2="${x2}" y2="${y2}" stroke="${c}" stroke-width="${w}"/>`);
const PL = (pts, c, w = 1) => sv.push(`<polyline points="${pts}" fill="none" stroke="${c}" stroke-width="${w}"/>`);
const C = (x, y, r, fill, stroke, w = 1) => sv.push(`<circle cx="${x}" cy="${y}" r="${r}" fill="${fill}" stroke="${stroke}" stroke-width="${w}"/>`);
const TRI = (x, y, fill) => sv.push(`<polygon points="${x - 4},${y + 3.5} ${x + 4},${y + 3.5} ${x},${y - 3.5}" fill="${fill}" stroke="#222" stroke-width="0.8"/>`);

C(38, 57, 2.3, '#000', 'none', 0);
C(39, 72, 2.6, 'none', '#333', 0.9);
C(115, 72, 2.6, 'none', '#f23cf2', 1);
C(131, 93, 3.6, '#000', 'none', 0);

// count box arrows
L(324, 100, 368, 100, '#999', 0.8); PL('327,97.5 323,100 327,102.5', '#999', 0.8);
L(395, 100, 428, 100, '#999', 0.8); PL('425,97.5 429,100 425,102.5', '#999', 0.8);
L(546, 100, 590, 100, '#999', 0.8); PL('549,97.5 545,100 549,102.5', '#999', 0.8);
L(612, 100, 643, 100, '#999', 0.8); PL('640,97.5 644,100 640,102.5', '#999', 0.8);
TRI(503, 260, OR_T); TRI(503, 269, BLUE_T);
C(541, 260, 3, 'none', OR_C, 1.2); C(541, 269, 3, 'none', BLUE_C, 1.2);

// panel c
L(90, 364, 103, 364, '#d07818', 1.2); L(90, 376, 103, 376, '#2a8ff0', 1.2);
L(372, 364, 384, 364, '#ff22ff', 1.2); L(372, 376, 384, 376, '#222', 1.2);
L(46, 402.5, 190, 402.5, '#888', 1);
L(265, 403.5, 450, 403.5, '#aaa', 1); L(265.5, 403, 265.5, 637, '#aaa', 1); L(265, 637.5, 307, 637.5, '#aaa', 1);
L(52, 436, 52, 408, '#ff00ff', 1); PL('49.5,412 52,407 54.5,412', '#ff00ff', 1);
L(50, 597, 50, 625, '#222', 1); PL('47.5,620 50,625 52.5,620', '#222', 1);
L(275, 435, 275, 408, '#d07818', 1); PL('272.5,412 275,407 277.5,412', '#d07818', 1);
L(274, 597, 274, 627, '#2a8ff0', 1); PL('271.5,622 274,627 276.5,622', '#2a8ff0', 1);

// panel d bracket
sv.push('<path d="M238,859 L233,859 Q230,859 230,862 L230,874 Q230,878 226,878 Q230,878 230,882 L230,897 Q230,900 233,900 L238,900" fill="none" stroke="#333" stroke-width="0.9"/>');

fig.insertAdjacentHTML('beforeend', '<svg id="ov" width="691" height="1020">' + sv.join('') + '</svg>');
</script>
</body>
</html>
